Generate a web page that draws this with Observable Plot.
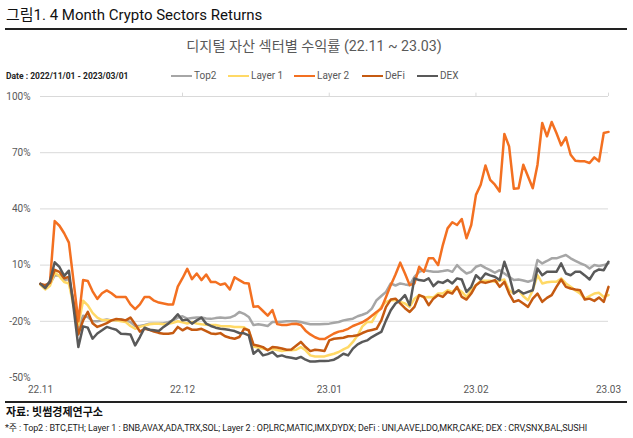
<!DOCTYPE html>
<html><head><meta charset="utf-8">
<script src="https://cdn.jsdelivr.net/npm/d3@7"></script>
<script src="https://cdn.jsdelivr.net/npm/@observablehq/plot@0.6"></script>
<style>
html,body{margin:0;padding:0;background:#fff;}
body{font-family:Roboto,"Noto Sans CJK KR",sans-serif;}
#wrap{position:relative;width:633px;height:438px;overflow:hidden;}
.abs{position:absolute;white-space:nowrap;}
#title{left:6px;top:5px;font-size:15px;color:#111;line-height:20px;}
.rule{position:absolute;left:5px;width:622px;height:1.5px;background:#222;}
#sub{left:0;width:628px;top:37px;text-align:center;font-size:14.2px;color:#595959;line-height:19px;}
#date{left:6px;top:70px;font-size:8.5px;font-weight:bold;color:#222;line-height:12px;}
.lg{position:absolute;top:70px;display:flex;align-items:center;font-size:10px;color:#595959;line-height:12px;}
.lg span.sw{display:inline-block;width:21px;height:2.5px;margin-right:2px;}
#chart{position:absolute;left:0;top:85px;}
#src{left:6px;top:405px;font-size:11px;font-weight:bold;color:#111;line-height:15px;}
#note{left:5px;top:423px;font-size:9px;color:#222;line-height:11px;letter-spacing:-0.1px;}
</style>
</head><body>
<div id="wrap">
  <div id="title" class="abs">그림1. 4 Month Crypto Sectors Returns</div>
  <div class="rule" style="top:28px"></div>
  <div id="sub" class="abs">디지털 자산 섹터별 수익률 (22.11 ~ 23.03)</div>
  <div id="date" class="abs">Date : 2022/11/01 - 2023/03/01</div>
  <div id="legend"></div>
  <div id="chart"></div>
  <div class="rule" style="top:401px"></div>
  <div id="src" class="abs">자료: 빗썸경제연구소</div>
  <div id="note" class="abs">*주 : Top2 : BTC,ETH; Layer 1 : BNB,AVAX,ADA,TRX,SOL; Layer 2 : OP,LRC,MATIC,IMX,DYDX; DeFi : UNI,AAVE,LDO,MKR,CAKE; DEX : CRV,SNX,BAL,SUSHI</div>
</div>
<script>
// ---- data (daily returns, %, 2022-11-01 .. 2023-03-01) ----
const seriesNames = ["Top2", "Layer 1", "Layer 2", "DeFi", "DEX"];
const seriesColors = ["#a6a6a6", "#ffd966", "#f37021", "#c55a11", "#595959"];
const startDate = "2022-11-01";
const endDate = "2023-03-01";
const xTickLabels = ["2022-11-01", "2022-12-01", "2023-01-01", "2023-02-01", "2023-03-01"];
const yTickValues = [-50, -20, 10, 40, 70, 100];
const gridValues = [-20, 10, 40, 70, 100];

const top2 = [
  0, -2.5, 0, 4.5, 4.5, 2, 2.5, -10, -24, -17,
  -17.7, -20, -20, -19.5, -19, -19.5, -19.5, -19, -19.5, -20.4,
  -22.5, -22.5, -22, -21.3, -21.3, -21.3, -21, -20.5, -19.5, -18,
  -17.3, -18.6, -18.3, -18, -18, -18.5, -18.7, -18.3, -18, -18.3,
  -18, -17, -15, -16, -17.7, -22, -21.6, -22, -22.5, -20.4,
  -20.4, -20.2, -20, -20, -20,
  -20.4, -21, -21.6, -21.6, -21.6, -21.4, -21.25, -20.8, -20.4, -19.5,
  -19, -18.6, -17.3, -16.5, -15.5, -13.2, -8.75, -6.5, -4.3, 0.2,
  -0.9, 0.2, -0.3, -0.7, 3.75, 6.4, 7.3, 6.8, 6.4, 6.4,
  6.8, 7.3, 6.4, 10, 7.5, 5.5, 6.4, 9.1, 10, 8.5,
  7.3, 5.9, 7.3, 5.5, 3.75, 2, 2.3, 1.8, 1.1, 2,
  12.7, 10.9, 12.2, 13.6, 13.6, 14.5, 15.4, 13.6, 12.3, 11,
  10, 8.2, 10, 9.5, 10, 10.9
];
const layer1 = [
  -0.5, -3, -1, 6, 4, 1, 0.2, -12, -22, -9,
  -11.5, -15.5, -18, -19.3, -19.5, -19.5, -19.5, -20, -20.4, -22.5,
  -24, -23, -22.3, -21.6, -21.3, -21.3, -21.6, -21.3, -20.8, -20,
  -20.5, -21.2, -20.4, -21.2, -21.6, -21.8, -22, -22, -22.5, -22.7,
  -22.7, -23, -23, -23.2, -25, -33.5, -34, -34.6, -35.2, -34.8,
  -35.3, -35.9, -35.5, -35.5, -35.2,
  -33.75, -35.5, -38.2, -38.75, -38.75, -38.75, -38, -37.3, -36.4, -35,
  -33.75, -31, -27.5, -22.7, -20.4, -20.4, -15.9, -12.3, -9.6, -8.75,
  -8.75, -9.6, -10.5, -12.3, -7.9, -6, -7.3, -7, -7.3, -5.2,
  -5.2, -3.4, -4.3, -2.5, -4.3, -7, -3.4, -0.7, 1.6, 1.6,
  1.6, 1.1, 1.7, 2.3, -3.4, -5.2, -3.4, -6.6, -8.75, -3.4,
  4.6, 0.2, 0.8, 1.1, 1.1, 2.9, 0.2, -1.6, -3.5, -5.2,
  -7.9, -6.5, -5.2, -4.8, -7, -6
];
const layer2 = [
  0, -2, 1, 33.5, 31, 27, 22, 1, -20, 2,
  1.5, -4, -8, -5, -3.5, -5, -7, -7, -7, -11,
  -13.5, -11, -7, -7, -9, -10, -10.5, -11, -11, -1.5,
  3, 8, 2.5, 5.5, 2, 5, 1, 1, -0.5, 0.2,
  -3, 3.5, 2, 0.5, 0.2, -12.3, -12, -14.5, -17, -14,
  -21.5, -22, -22, -21.5, -21.3, -22, -25, -27, -28.5, -29.5,
  -29.5, -28, -26.5, -25.5, -25, -24, -22.5, -21.5, -20.5, -19,
  -17, -15, -13.2, -7, -0.7, 5, 11.3, 5.5, -0.7, 0.2,
  9.1, 6.4, 13.6, 13.6, 10, 20.7, 29.6, 32.9, 31.4, 34.6,
  24.3, 31.4, 47.5, 52.9, 63.2, 55.5, 52.9, 49.3, 80, 73.4,
  50.7, 51, 63.6, 57.3, 51, 63.6, 85.9, 78.75, 86.4, 80.5,
  73.9, 78.2, 68.9, 65.7, 65.5, 65.4, 64.5, 67.5, 65.4, 80.5, 81.1
];
const defi = [
  0, -0.7, 0.5, 7.5, 6.4, 3, 3.7, -10, -27, -19.5,
  -15, -21, -23, -22, -21, -19.5, -18.8, -19, -19.5, -18,
  -21.5, -25.5, -24, -24.5, -25.5, -26.2, -26.6, -26.6, -26.3, -23,
  -24.8, -23.4, -24.5, -24.5, -24, -25.2, -26.5, -26.8, -26.3, -28,
  -28.8, -29.3, -28.4, -24, -24.8, -32.5, -33, -33.8, -35.5, -33.75,
  -34, -34.5, -35.2, -35, -33,
  -31, -33.75, -35.9, -35.2, -35.5, -35.9, -30.2, -29.3, -29, -28.75,
  -28, -27.8, -27.5, -26.25, -25.2, -24.6, -24, -19.5, -12.3, -8.4,
  -7.9, -10.5, -13, -15, -12.3, -6, -7, -11.4, -7.9, -6,
  -7, -4.3, -5.2, -1.6, -7, -8.4, -5.2, -0.7, 1.1, 0.5,
  1.2, 2, -1.6, 1.1, -5.2, -9.6, -8.75, -10.5, -12.3, -7.9,
  -5.2, -9.6, -7.5, -6, -1.6, 2.3, -1.6, -2.5, -3, -3.4,
  -8.4, -7.9, -9.1, -7.3, -9.6, -1.6
];
const dex = [
  0, -2.3, 1.5, 11.5, 9, 4.3, 7, -13, -33.75, -22.7,
  -23.4, -29.3, -26.5, -24.8, -23, -23.8, -24.5, -26.6, -26.8, -27,
  -32.9, -28.4, -23.4, -24.5, -24.8, -25.2, -23, -21.25, -19.1, -16.25,
  -19.5, -19.1, -21.25, -19.5, -18, -21.25, -22.5, -23.4, -24, -24.3,
  -24.7, -25.2, -26.25, -26.4, -27.5, -37.3, -35.2, -38.2, -37.5, -36.4,
  -38.75, -38.2, -39.1, -39.5, -40,
  -39, -40.5, -41.5, -41.5, -41.25, -41.25, -41, -40.5, -39.1, -37.3,
  -38.2, -34.6, -32.3, -31, -30.2, -28.4, -27, -25.7, -19.5, -14.1,
  -10.5, -8.75, -6, -11.4, 2.9, 2, 1.6, 2.9, -1.25, 1.1,
  0.5, 2, 0.2, 2.9, 2.3, -4.3, -1.6, 4.6, 2.3, 5.5,
  4.5, 3.75, 2, 11.8, 4.6, -5.2, -3.4, -5.2, -4.3, -3.4,
  8.2, 4.6, 6.4, 6.4, 6.4, 10.9, 5.5, 4.6, 6.4, 6.4,
  4.5, 2.3, 6.4, 7.7, 7.3, 11.8
];

// ---- build table ----
const seriesValues = [top2, layer1, layer2, defi, dex];
const days = d3.utcDay.range(new Date(startDate), d3.utcDay.offset(new Date(endDate), 1));
const rows = [];
seriesNames.forEach((name, si) => {
  seriesValues[si].forEach((v, i) => rows.push({series: name, date: days[i], value: v}));
});
const xTicks = xTickLabels.map(s => new Date(s));

// ---- legend ----
const legendLeft = [171, 228, 294, 362, 417];
const legend = document.getElementById("legend");
seriesNames.forEach((n, i) => {
  const d = document.createElement("div");
  d.className = "lg";
  d.style.left = legendLeft[i] + "px";
  d.innerHTML = `<span class="sw" style="background:${seriesColors[i]}"></span><span>${n}</span>`;
  legend.appendChild(d);
});

// ---- chart ----
const chart = Plot.plot({
  width: 633,
  height: 310,
  marginTop: 11,
  marginBottom: 18,
  marginLeft: 40,
  marginRight: 25,
  style: {fontFamily: 'Roboto, "Noto Sans CJK KR", sans-serif', fontSize: "10px", color: "#595959", background: "transparent"},
  x: {type: "utc", domain: [new Date(startDate), new Date(endDate)]},
  y: {domain: [-50, 100]},
  color: {domain: seriesNames, range: seriesColors},
  marks: [
    Plot.ruleY(gridValues, {stroke: "#d9d9d9", strokeWidth: 1}),
    Plot.ruleX(xTicks.slice(1), {y1: 100, y2: 101.8, stroke: "#d9d9d9"}),
    Plot.axisY({ticks: yTickValues, tickFormat: d => d + "%", tickSize: 0, tickPadding: 10, label: null}),
    Plot.axisX({ticks: xTicks, tickFormat: d3.utcFormat("%y.%m"), tickSize: 0, tickPadding: 8, label: null}),
    Plot.lineY(rows, {x: "date", y: "value", z: "series", stroke: "series", strokeWidth: 2.5, strokeLinejoin: "round", curve: "linear"})
  ]
});
document.getElementById("chart").appendChild(chart);
</script>
</body></html>
